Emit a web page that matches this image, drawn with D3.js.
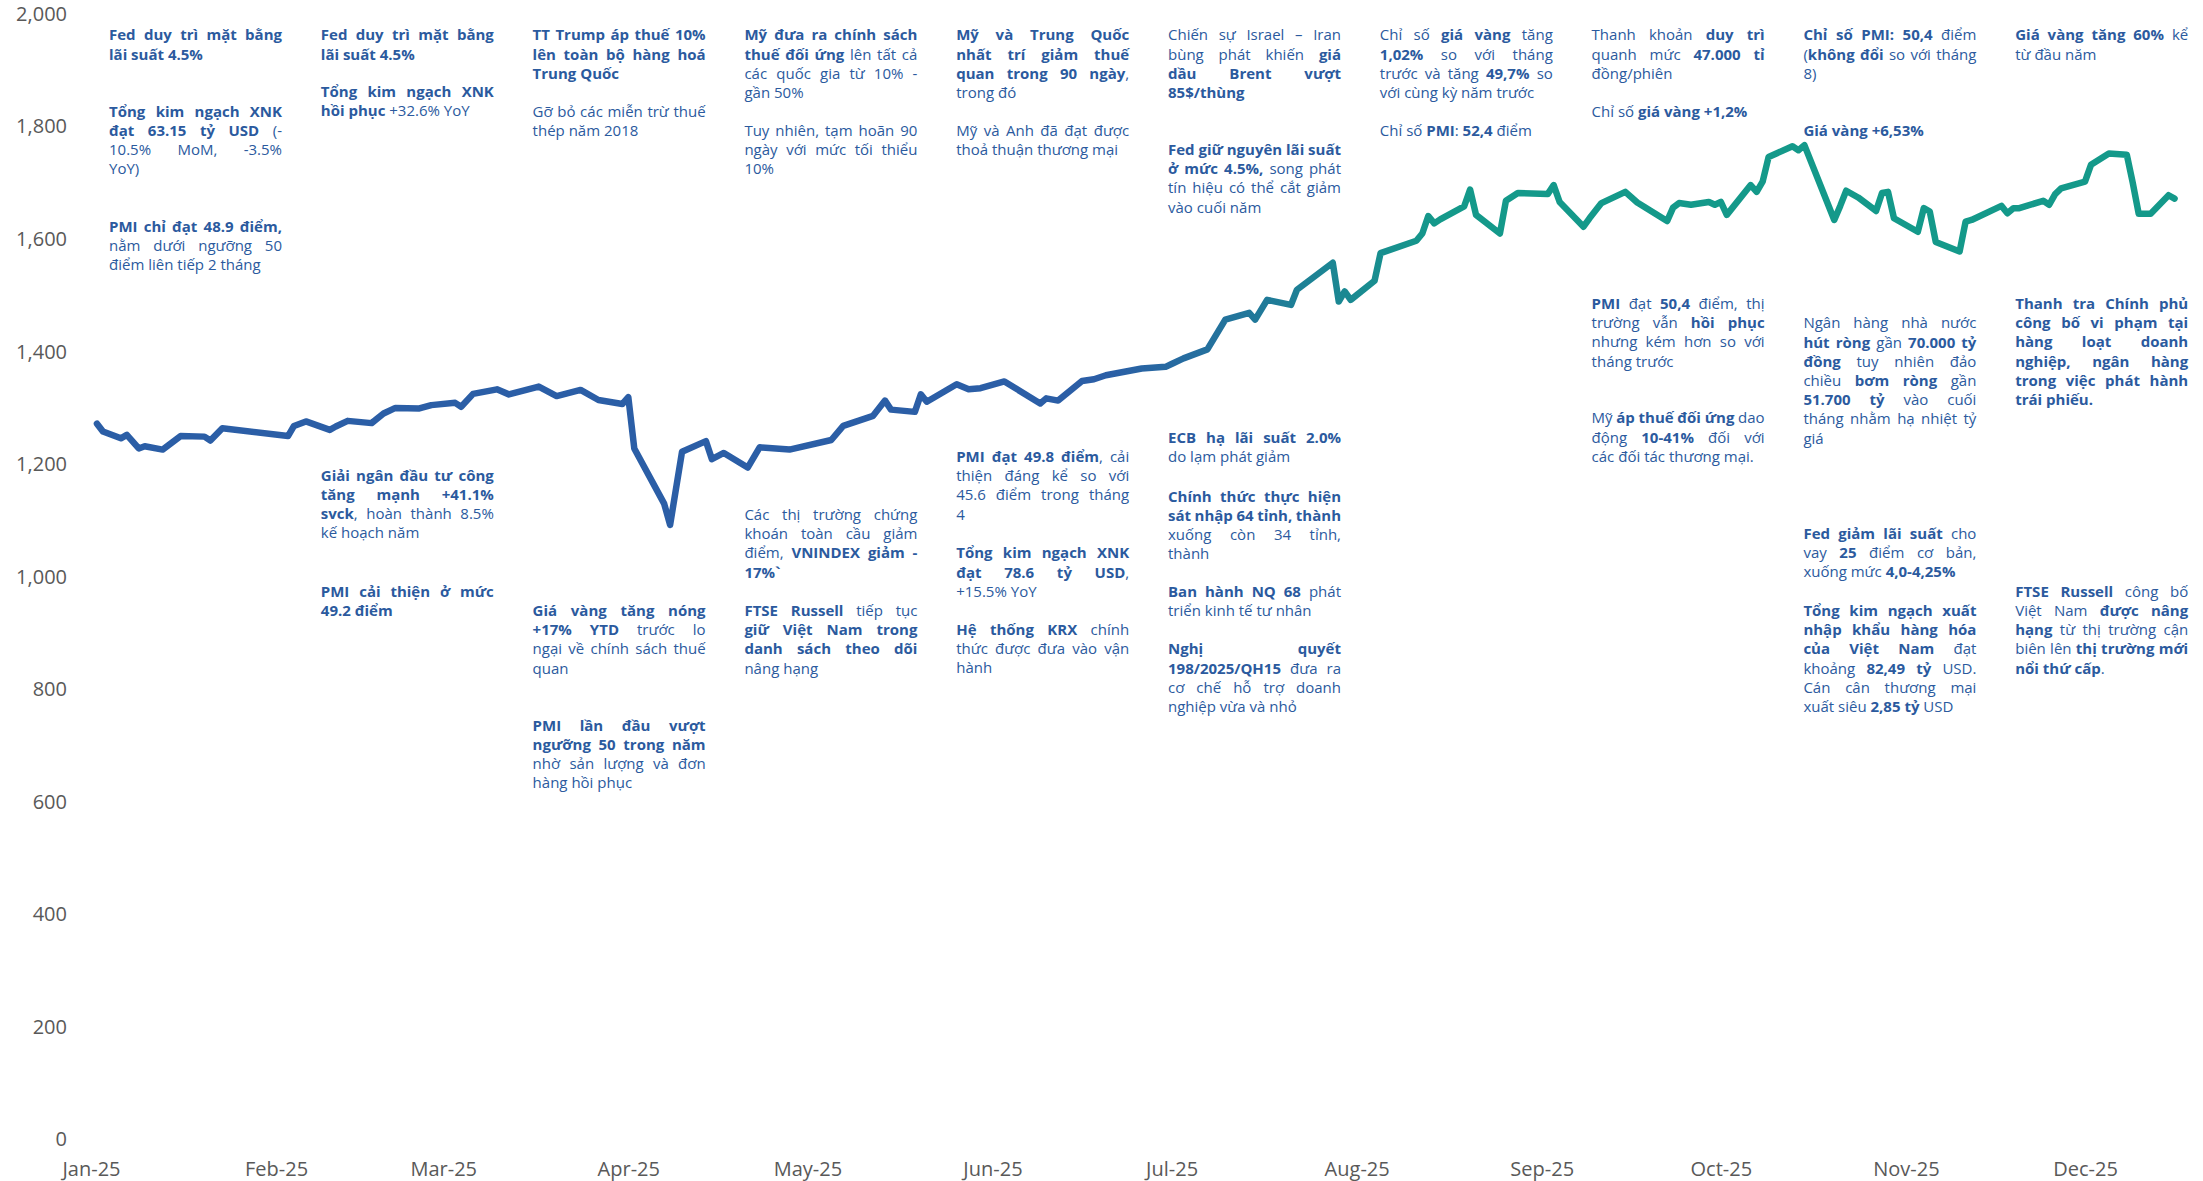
<!DOCTYPE html>
<html>
<head>
<meta charset="utf-8">
<title>VN-Index 2025</title>
<script src="https://d3js.org/d3.v7.min.js"></script>
<style>
  body { margin: 0; background: #fff; }
  text { font-family: "Open Sans", "Noto Sans", sans-serif; }
</style>
</head>
<body>
<div id="chart"></div>
<script>

// VN-Index close, 2025
var dates = [
  "2025-01-02","2025-01-03","2025-01-06","2025-01-07","2025-01-09","2025-01-10","2025-01-13","2025-01-16","2025-01-20","2025-01-21","2025-01-23",
  "2025-02-03","2025-02-04","2025-02-06","2025-02-10","2025-02-11","2025-02-13","2025-02-17","2025-02-19","2025-02-21","2025-02-25","2025-02-27",
  "2025-03-03","2025-03-04","2025-03-06","2025-03-10","2025-03-12","2025-03-17","2025-03-20","2025-03-24","2025-03-27","2025-03-31",
  "2025-04-01","2025-04-02","2025-04-07","2025-04-08","2025-04-10","2025-04-14","2025-04-15","2025-04-17","2025-04-21","2025-04-23","2025-04-28",
  "2025-05-05","2025-05-07","2025-05-12","2025-05-14","2025-05-15","2025-05-19","2025-05-20","2025-05-21","2025-05-26","2025-05-28","2025-05-30",
  "2025-06-03","2025-06-09","2025-06-10","2025-06-12","2025-06-16","2025-06-18","2025-06-20","2025-06-26","2025-06-30",
  "2025-07-01","2025-07-03","2025-07-07","2025-07-10","2025-07-14","2025-07-15","2025-07-17","2025-07-21","2025-07-22","2025-07-28","2025-07-29","2025-07-30","2025-07-31",
  "2025-08-04","2025-08-05","2025-08-11","2025-08-12","2025-08-13","2025-08-14","2025-08-15","2025-08-19","2025-08-20","2025-08-21","2025-08-25","2025-08-26","2025-08-28",
  "2025-09-02","2025-09-03","2025-09-04","2025-09-08","2025-09-09","2025-09-11","2025-09-15","2025-09-17","2025-09-22","2025-09-23","2025-09-24","2025-09-26","2025-09-29","2025-09-30",
  "2025-10-01","2025-10-02","2025-10-06","2025-10-07","2025-10-08","2025-10-09","2025-10-13","2025-10-14","2025-10-15","2025-10-20","2025-10-21","2025-10-22","2025-10-24","2025-10-27","2025-10-28","2025-10-29","2025-10-30",
  "2025-11-03","2025-11-04","2025-11-05","2025-11-06","2025-11-10","2025-11-11","2025-11-12","2025-11-17","2025-11-18","2025-11-19","2025-11-20","2025-11-24","2025-11-25","2025-11-26","2025-11-27",
  "2025-12-01","2025-12-02","2025-12-05","2025-12-08","2025-12-09","2025-12-10","2025-12-12","2025-12-15","2025-12-16"
];
var values = [
  1272,1258,1246,1252,1228,1232,1226,1250,1249,1242,1264,
  1250,1268,1276,1261,1267,1277,1273,1290,1300,1299,1305,
  1309,1302,1325,1333,1324,1338,1321,1332,1314,1307,
  1319,1228,1130,1092,1222,1241,1209,1220,1194,1230,1226,
  1243,1268,1286,1313,1297,1293,1324,1311,1342,1333,1335,
  1347,1308,1317,1313,1348,1351,1358,1370,1373,
  1378,1388,1404,1457,1469,1457,1492,1483,1510,1558,1489,1507,1492,
  1526,1575,1597,1610,1641,1628,1635,1658,1688,1643,1610,1668,1682,
  1680,1696,1666,1622,1637,1664,1684,1665,1632,1656,1664,1661,1666,1661,
  1666,1643,1696,1684,1702,1746,1765,1758,1767,1634,1659,1686,1674,1650,1682,1684,1637,
  1613,1655,1649,1595,1578,1631,1634,1659,1646,1655,1655,1668,1661,1680,1690,
  1702,1732,1752,1750,1700,1645,1645,1678,1672
];

var yTicks = [0, 200, 400, 600, 800, 1000, 1200, 1400, 1600, 1800, 2000];
var monthTicks = ["2025-01-01","2025-02-01","2025-03-01","2025-04-01","2025-05-01","2025-06-01",
                  "2025-07-01","2025-08-01","2025-09-01","2025-10-01","2025-11-01","2025-12-01"];

// annotation text, one entry per paragraph; **...** is bold
var noteLines = [
  ["**Fed duy trì mặt bằng**", "**lãi suất 4.5%**"],
  ["**Tổng kim ngạch XNK**", "**đạt 63.15 tỷ USD** (-", "10.5% MoM, -3.5%", "YoY)"],
  ["**PMI chỉ đạt 48.9 điểm,**", "nằm dưới ngưỡng 50", "điểm liên tiếp 2 tháng"],
  ["**Fed duy trì mặt bằng**", "**lãi suất 4.5%**"],
  ["**Tổng kim ngạch XNK**", "**hồi phục** +32.6% YoY"],
  ["**Giải ngân đầu tư công**", "**tăng mạnh +41.1%**", "**svck**, hoàn thành 8.5%", "kế hoạch năm"],
  ["**PMI cải thiện ở mức**", "**49.2 điểm**"],
  ["**TT Trump áp thuế 10%**", "**lên toàn bộ hàng hoá**", "**Trung Quốc**"],
  ["Gỡ bỏ các miễn trừ thuế", "thép năm 2018"],
  ["**Giá vàng tăng nóng**", "**+17% YTD** trước lo", "ngại về chính sách thuế", "quan"],
  ["**PMI lần đầu vượt**", "**ngưỡng 50 trong năm**", "nhờ sản lượng và đơn", "hàng hồi phục"],
  ["**Mỹ đưa ra chính sách**", "**thuế đối ứng** lên tất cả", "các quốc gia từ 10% -", "gần 50%"],
  ["Tuy nhiên, tạm hoãn 90", "ngày với mức tối thiểu", "10%"],
  ["Các thị trường chứng", "khoán toàn cầu giảm", "điểm, **VNINDEX giảm -**", "**17%`**"],
  ["**FTSE Russell** tiếp tục", "**giữ Việt Nam trong**", "**danh sách theo dõi**", "nâng hạng"],
  ["**Mỹ và Trung Quốc**", "**nhất trí giảm thuế**", "**quan trong 90 ngày**,", "trong đó"],
  ["Mỹ và Anh đã đạt được", "thoả thuận thương mại"],
  ["**PMI đạt 49.8 điểm**, cải", "thiện đáng kể so với", "45.6 điểm trong tháng", "4"],
  ["**Tổng kim ngạch XNK**", "**đạt 78.6 tỷ USD**,", "+15.5% YoY"],
  ["**Hệ thống KRX** chính", "thức được đưa vào vận", "hành"],
  ["Chiến sự Israel – Iran", "bùng phát khiến **giá**", "**dầu Brent vượt**", "**85$/thùng**"],
  ["**Fed giữ nguyên lãi suất**", "**ở mức 4.5%,** song phát", "tín hiệu có thể cắt giảm", "vào cuối năm"],
  ["**ECB hạ lãi suất 2.0%**", "do lạm phát giảm"],
  ["**Chính thức thực hiện**", "**sát nhập 64 tỉnh, thành**", "xuống còn 34 tỉnh,", "thành"],
  ["**Ban hành NQ 68** phát", "triển kinh tế tư nhân"],
  ["**Nghị quyết**", "**198/2025/QH15** đưa ra", "cơ chế hỗ trợ doanh", "nghiệp vừa và nhỏ"],
  ["Chỉ số **giá vàng** tăng", "**1,02%** so với tháng", "trước và tăng **49,7%** so", "với cùng kỳ năm trước"],
  ["Chỉ số **PMI**: **52,4** điểm"],
  ["Thanh khoản **duy trì**", "quanh mức **47.000 tỉ**", "đồng/phiên"],
  ["Chỉ số **giá vàng +1,2%**"],
  ["**PMI** đạt **50,4** điểm, thị", "trường vẫn **hồi phục**", "nhưng kém hơn so với", "tháng trước"],
  ["Mỹ **áp thuế đối ứng** dao", "động **10-41%** đối với", "các đối tác thương mại."],
  ["**Chỉ số PMI: 50,4** điểm", "(**không đổi** so với tháng", "8)"],
  ["**Giá vàng +6,53%**"],
  ["Ngân hàng nhà nước", "**hút ròng** gần **70.000 tỷ**", "**đồng** tuy nhiên đảo", "chiều **bơm ròng** gần", "**51.700 tỷ** vào cuối", "tháng nhằm hạ nhiệt tỷ", "giá"],
  ["**Fed giảm lãi suất** cho", "vay **25** điểm cơ bản,", "xuống mức **4,0-4,25%**"],
  ["**Tổng kim ngạch xuất**", "**nhập khẩu hàng hóa**", "**của Việt Nam** đạt", "khoảng **82,49 tỷ** USD.", "Cán cân thương mại", "xuất siêu **2,85 tỷ** USD"],
  ["**Giá vàng tăng 60%** kể", "từ đầu năm"],
  ["**Thanh tra Chính phủ**", "**công bố vi phạm tại**", "**hàng loạt doanh**", "**nghiệp, ngân hàng**", "**trong việc phát hành**", "**trái phiếu.**"],
  ["**FTSE Russell** công bố", "Việt Nam **được nâng**", "**hạng** từ thị trường cận", "biên lên **thị trường mới**", "**nổi thứ cấp**."]
];
// layout of each paragraph: [column, first baseline]
var notePos = [
  [0, 40.3], [0, 116.7], [0, 231.7],
  [1, 40.3], [1, 96.7], [1, 480.7], [1, 596.7],
  [2, 40.3], [2, 116.7], [2, 616], [2, 730.7],
  [3, 40.3], [3, 135.7], [3, 520], [3, 616],
  [4, 40.3], [4, 135.7], [4, 462], [4, 558.3], [4, 635],
  [5, 40.3], [5, 155], [5, 442.7], [5, 501.7], [5, 596.7], [5, 654.3],
  [6, 40.3], [6, 135.7],
  [7, 40.3], [7, 116.7], [7, 309], [7, 423.3],
  [8, 40.3], [8, 135.7], [8, 328.3], [8, 539], [8, 616],
  [9, 40.3], [9, 309], [9, 596.7]
];

var W = 2203, H = 1181;
var noteColor = "#2B5A9E", axisColor = "#595959";
var fs = 15, lh = 19.2, colX0 = 109, colStep = 211.8, colW = 173;

var svg = d3.select("#chart").append("svg")
    .attr("width", W)
    .attr("height", H);

var parseDate = d3.timeParse("%Y-%m-%d");
var data = dates.map(function(d, i) { return { date: parseDate(d), value: values[i] }; });

var x = d3.scaleTime()
    .domain([parseDate("2025-01-01"), parseDate("2025-12-01")])
    .range([91, 2085]);
var y = d3.scaleLinear()
    .domain([0, 2000])
    .range([1139.5, 14]);

// y axis (labels only)
var yAxis = svg.append("g")
    .attr("transform", "translate(75,0)")
    .call(d3.axisLeft(y).tickValues(yTicks).tickSize(0).tickPadding(8).tickFormat(d3.format(",")));
yAxis.select(".domain").remove();
yAxis.selectAll("text").attr("font-size", 20).attr("fill", axisColor).style("font-family", "'Open Sans', sans-serif");

// x axis (labels only)
var xAxis = svg.append("g")
    .attr("transform", "translate(0," + y(0) + ")")
    .call(d3.axisBottom(x).tickValues(monthTicks.map(parseDate)).tickSize(0).tickPadding(22)
      .tickFormat(d3.timeFormat("%b-%y")));
xAxis.select(".domain").remove();
xAxis.selectAll("text").attr("font-size", 20).attr("fill", axisColor).style("font-family", "'Open Sans', sans-serif");

// blue -> teal gradient along the time axis
var grad = svg.append("defs").append("linearGradient")
    .attr("id", "lineGrad")
    .attr("gradientUnits", "userSpaceOnUse")
    .attr("x1", x(parseDate("2025-06-20"))).attr("y1", 0)
    .attr("x2", x(parseDate("2025-08-15"))).attr("y2", 0);
grad.append("stop").attr("offset", 0).attr("stop-color", "#2B5EA6");
grad.append("stop").attr("offset", 1).attr("stop-color", "#14998A");

svg.append("path")
    .datum(data)
    .attr("fill", "none")
    .attr("stroke", "url(#lineGrad)")
    .attr("stroke-width", 6.5)
    .attr("stroke-linejoin", "round")
    .attr("stroke-linecap", "round")
    .attr("d", d3.line()
      .x(function(d) { return x(d.date); })
      .y(function(d) { return y(d.value); }));

// split a line into words, each word a list of {t, b} runs
function parseLine(line) {
  var words = [[]], bold = false;
  line.split("**").forEach(function(part, i) {
    if (i > 0) bold = !bold;
    part.split(" ").forEach(function(piece, j) {
      if (j > 0 && words[words.length - 1].length) words.push([]);
      if (piece) words[words.length - 1].push({ t: piece, b: bold });
    });
  });
  return words.filter(function(w) { return w.length; });
}

var notes = svg.append("g").attr("fill", noteColor).attr("font-size", fs);

function drawLine(x0, yb, line, justify) {
  var words = parseLine(line);
  var t = notes.append("text");
  var spans = [], widths = [];
  words.forEach(function(w) {
    var total = 0, first = null;
    w.forEach(function(seg) {
      var ts = t.append("tspan").attr("font-weight", seg.b ? 700 : 400).text(seg.t);
      if (!first) first = ts;
      total += ts.node().getComputedTextLength();
    });
    spans.push(first);
    widths.push(total);
  });
  var sum = d3.sum(widths), n = words.length, sp = fs * 0.26;
  var gap = sp, s = 1;
  if (justify && n > 1) gap = (colW - sum) / (n - 1);
  if (gap < sp * 0.6 || sum + (n - 1) * gap > colW + 0.5) {
    gap = justify ? sp * 0.6 : sp;
    s = Math.min(1, colW / (sum + (n - 1) * gap));
  }
  var cx = 0;
  spans.forEach(function(ts, i) {
    ts.attr("x", cx);
    cx += widths[i] + gap;
  });
  t.attr("transform", "translate(" + x0 + "," + yb + ")" + (s < 1 ? " scale(" + s + ",1)" : ""));
}

noteLines.forEach(function(lines, k) {
  var col = notePos[k][0], top = notePos[k][1];
  var x0 = colX0 + col * colStep;
  lines.forEach(function(line, i) {
    drawLine(x0, top + i * lh, line, i < lines.length - 1);
  });
});

</script>
</body>
</html>
